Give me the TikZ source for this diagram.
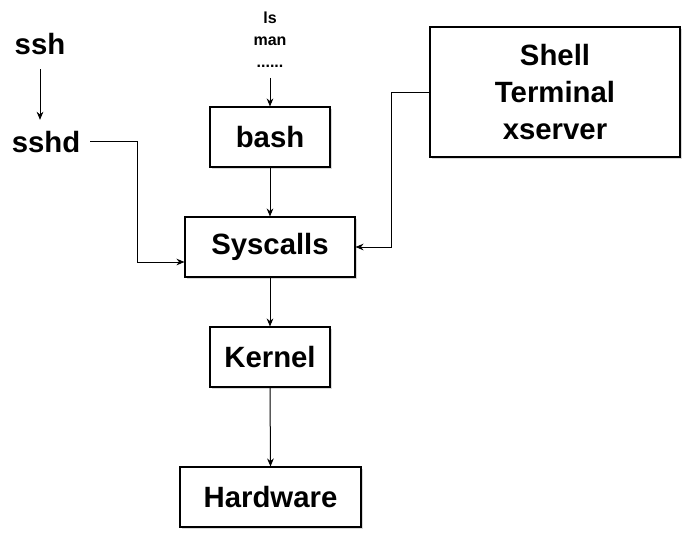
\documentclass[tikz,border=0pt]{standalone}
\usepackage{fontspec}
\setmainfont{Liberation Sans}
\usetikzlibrary{arrows.meta,shadows}
\tikzset{
  box/.style={draw=black, line width=0.8pt, fill=white, inner sep=0pt,
    font=\fontsize{22}{27.75}\selectfont\bfseries, align=center,
    drop shadow={shadow xshift=1.8pt, shadow yshift=-1.8pt, opacity=0.25, fill=black!60}},
  lbl/.style={inner sep=0pt, font=\fontsize{22}{27.75}\selectfont\bfseries},
  small/.style={inner sep=0pt, font=\fontsize{12}{16.5}\selectfont\bfseries, align=center},
  arr/.style={draw=black, line width=0.75pt, -{Stealth[length=6pt,width=5pt]}},
}
\begin{document}
\begin{tikzpicture}[x=0.75pt,y=-0.75pt]
\useasboundingbox (0,0) rectangle (692,539);
% boxes
\node[box, minimum width=90pt, minimum height=45pt] (bash) at (270,137) {bash};
\node[box, minimum width=127.5pt, minimum height=45pt] (sys) at (270,247) {Syscalls};
\node[box, minimum width=90pt, minimum height=45pt] (kern) at (270,357) {Kernel};
\node[box, minimum width=135.75pt, minimum height=45pt] (hw) at (270.5,497) {Hardware};
\node[box, minimum width=187.5pt, minimum height=97.5pt] (shell) at (555,92) {Shell\\Terminal\\xserver};
% free labels
\node[lbl, anchor=base] (ssh) at (40,54) {ssh};
\node[lbl, anchor=base] (sshd) at (46,152) {sshd};
\node[small, anchor=base] (cmds) at (270,67) {ls\\man\\......};
% connectors
\draw[arr, shorten <=11pt, shorten >=8pt] (ssh.south) -- (ssh.south |- sshd.north);
\draw[arr, shorten <=8pt] (cmds.south) -- (bash.north);
\draw[arr] (bash.south) -- (sys.north);
\draw[arr] (sys.south) -- (kern.north);
\draw[arr] (kern.south) -- (hw.north);
\draw[arr, shorten <=7.5pt] (sshd.east) -- ++(57,0) |- ([yshift=-11.25pt]sys.west);
\draw[arr] (shell.west) -- ++(-37.5,0) |- (sys.east);
\end{tikzpicture}
\end{document}
